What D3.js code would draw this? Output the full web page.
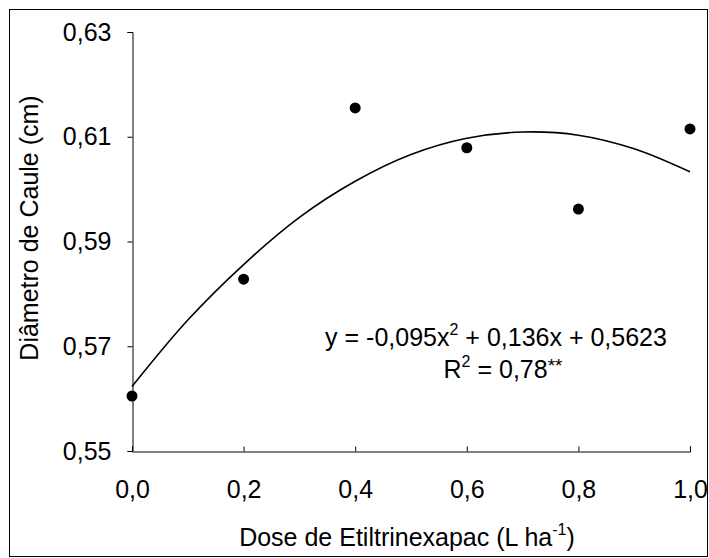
<!DOCTYPE html>
<head>
  <meta charset="utf-8">
  <script src="https://d3js.org/d3.v7.min.js"></script>
  <style>
    body { margin:0; background:#fff; }
    text { font-family: "Liberation Sans", Arial, sans-serif; fill:#000; }
  </style>
</head>
<body>
  <script>
    // observed points
    var doses = [0, 0.2, 0.4, 0.6, 0.8, 1.0];
    var diametro = [0.5605, 0.5828, 0.6155, 0.6079, 0.5962, 0.6115];

    // fitted curve
    var curveX = [0, 0.1, 0.2, 0.3, 0.4, 0.5, 0.6, 0.7, 0.8, 0.9, 1.0];
    var curveY = [0.5623, 0.5750, 0.5856, 0.5946, 0.6015, 0.6066, 0.6097, 0.6109, 0.6103, 0.6077, 0.6033];

    var xTicks = [0, 0.2, 0.4, 0.6, 0.8, 1.0];
    var yTicks = [0.55, 0.57, 0.59, 0.61, 0.63];

    var width = 709, height = 558;
    var fs = 25;
    var svg = d3.select("body").append("svg")
      .attr("width", width).attr("height", height);

    // outer frame
    svg.append("rect")
      .attr("x", 9.5).attr("y", 9.5)
      .attr("width", 698).attr("height", 547)
      .attr("fill", "none").attr("stroke", "#000").attr("stroke-width", 1);

    var x = d3.scaleLinear().domain([0, 1]).range([132, 690]);
    var y = d3.scaleLinear().domain([0.55, 0.63]).range([451, 32]);

    var fmt = function(d) { return d3.format(".2f")(d).replace(".", ","); };
    var fmtX = function(d) { return d3.format(".1f")(d).replace(".", ","); };

    // y axis, ticks outside
    var gy = svg.append("g").attr("transform", "translate(132.5,0)")
      .call(d3.axisLeft(y).tickValues(yTicks).tickFormat(fmt).tickSize(5).tickPadding(16));
    // x axis, ticks pointing up
    var gx = svg.append("g").attr("transform", "translate(0,451.5)")
      .call(d3.axisBottom(x).tickValues(xTicks).tickFormat(fmtX).tickSize(-5).tickPadding(29));

    [gx, gy].forEach(function(g) {
      g.select(".domain").attr("stroke", "#000");
      g.selectAll(".tick line").attr("stroke", "#000");
      g.selectAll("text").attr("font-size", fs).attr("font-family", "Liberation Sans, Arial, sans-serif").attr("fill", "#000");
    });

    // trend curve
    var line = d3.line()
      .x(function(d) { return x(d[0]); })
      .y(function(d) { return y(d[1]); })
      .curve(d3.curveCatmullRom);
    svg.append("path")
      .attr("d", line(d3.zip(curveX, curveY)))
      .attr("fill", "none").attr("stroke", "#000").attr("stroke-width", 1.6);

    // points
    svg.selectAll("circle.pt")
      .data(d3.zip(doses, diametro)).enter()
      .append("circle").attr("class", "pt")
      .attr("cx", function(d) { return x(d[0]); })
      .attr("cy", function(d) { return y(d[1]); })
      .attr("r", 5.5)
      .attr("fill", "#000");

    // axis titles
    var xt = svg.append("text")
      .attr("x", 407).attr("y", 546)
      .attr("text-anchor", "middle").attr("font-size", fs);
    xt.append("tspan").text("Dose de Etiltrinexapac (L ha");
    xt.append("tspan").attr("dy", -11).attr("font-size", 16).text("-1");
    xt.append("tspan").attr("dy", 11).text(")");

    svg.append("text")
      .attr("transform", "translate(38,228) rotate(-90)")
      .attr("text-anchor", "middle").attr("font-size", fs)
      .text("Diâmetro de Caule (cm)");

    // equation
    var eq = svg.append("text")
      .attr("x", 496).attr("y", 346)
      .attr("text-anchor", "middle").attr("font-size", fs);
    eq.append("tspan").text("y = -0,095x");
    eq.append("tspan").attr("dy", -11).attr("font-size", 16).text("2");
    eq.append("tspan").attr("dy", 11).text(" + 0,136x + 0,5623");

    var r2 = svg.append("text")
      .attr("x", 503).attr("y", 378)
      .attr("text-anchor", "middle").attr("font-size", fs);
    r2.append("tspan").text("R");
    r2.append("tspan").attr("dy", -11).attr("font-size", 16).text("2");
    r2.append("tspan").attr("dy", 11).text(" = 0,78");
    r2.append("tspan").attr("dy", -6).attr("font-size", 19).text("**");
  </script>
</body>
</html>
